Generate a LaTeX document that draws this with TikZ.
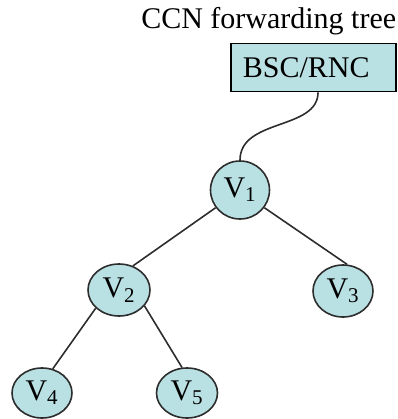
\documentclass[tikz,border=0pt]{standalone}
\usepackage{fontspec}
\setmainfont{Liberation Serif}
\usetikzlibrary{shapes.geometric}

\definecolor{treefill}{RGB}{185,224,227}
\definecolor{treeline}{RGB}{45,45,45}

\begin{document}
\begin{tikzpicture}[x=0.75pt,y=-0.75pt,line width=1.2pt,
                    font=\fontsize{22.5}{27}\selectfont]
  \tikzstyle{vertex}=[ellipse,draw=treeline,fill=treefill,inner sep=0pt]
  \tikzstyle{branch}=[draw=treeline]

  \useasboundingbox (0,0) rectangle (398,419);

  \node[anchor=base east,inner sep=0pt] (title) at (397,28) {CCN forwarding tree};
  \node[draw=black,fill=treefill,text width=106pt,inner xsep=9pt,align=left,
        minimum height=36pt] (bsc) at (313.5,67.5) {BSC/RNC};

  \node[vertex,minimum width=44.25pt,minimum height=43.5pt] (v1) at (240,190) {V\textsubscript{1}};
  \node[vertex,minimum width=46.5pt,minimum height=39pt]    (v2) at (119,290) {V\textsubscript{2}};
  \node[vertex,minimum width=45pt,minimum height=39pt]      (v3) at (343,291) {V\textsubscript{3}};
  \node[vertex,minimum width=45pt,minimum height=37.5pt]    (v4) at (42,393)  {V\textsubscript{4}};
  \node[vertex,minimum width=45.75pt,minimum height=37.5pt] (v5) at (187,393) {V\textsubscript{5}};

  \path[branch] ([xshift=3.4pt]bsc.south) .. controls +(0,38) and +(0,-42) .. (v1.north)
        (v1.216) edge (v2.60)
        (v1.324) edge (v3.81)
        (v2.218) edge (v4.66)
        (v2.328) edge (v5.101);
\end{tikzpicture}
\end{document}
